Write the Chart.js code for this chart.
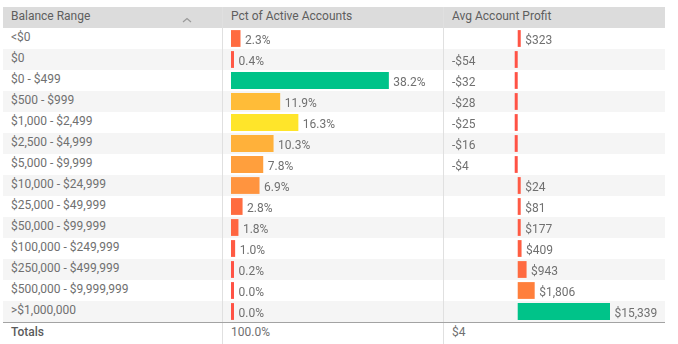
<!DOCTYPE html>
<html>
<head>
<meta charset="utf-8">
<script src="https://cdn.jsdelivr.net/npm/chart.js@4"></script>
<style>
  body { margin: 0; background: #fff; font-family: Roboto, sans-serif; font-size: 12px; color: #707070; }
  #wrap { position: relative; width: 678px; height: 344px; overflow: hidden; }
  .abs { position: absolute; }
  .hdr { top: 7px; left: 3px; width: 662px; height: 21px; background: #dcdcdc; }
  .row { left: 3px; width: 662px; height: 21px; }
  .txt { position: absolute; white-space: nowrap; line-height: 19px; height: 21px; }
  .htxt { color: #5e5e5e; }
  .vline { width: 1px; top: 7px; height: 337px; background: #e0e0e0; }
  .tline { left: 3px; width: 662px; top: 322px; height: 1px; background: #a3a3a3; }
  .tot { position: absolute; top: 322px; line-height: 21px; white-space: nowrap; }
  canvas { position: absolute; }
</style>
</head>
<body>
<div id="wrap">
  <div class="abs hdr"></div>
  <div id="rows"></div>
  <div class="abs vline" style="left:222px"></div>
  <div class="abs vline" style="left:443px"></div>
  <div class="abs tline"></div>
  <svg class="abs" style="left:0;top:0" width="678" height="30">
    <polyline points="183,22 187,18.5 191,22" fill="none" stroke="#9a9a9a" stroke-width="1.2"/>
  </svg>
  <canvas id="pctChart" width="221" height="294" style="left:222px;top:28px"></canvas>
  <canvas id="profitChart" width="222" height="294" style="left:443px;top:28px"></canvas>
</div>
<script>
// table data
const headers = ['Balance Range', 'Pct of Active Accounts', 'Avg Account Profit'];
const ranges = ['<$0', '$0', '$0 - $499', '$500 - $999', '$1,000 - $2,499', '$2,500 - $4,999',
  '$5,000 - $9,999', '$10,000 - $24,999', '$25,000 - $49,999', '$50,000 - $99,999',
  '$100,000 - $249,999', '$250,000 - $499,999', '$500,000 - $9,999,999', '>$1,000,000'];
const pctActive = [2.3, 0.4, 38.2, 11.9, 16.3, 10.3, 7.8, 6.9, 2.8, 1.8, 1.0, 0.2, 0.0, 0.0];
const avgProfit = [323, -54, -32, -28, -25, -16, -4, 24, 81, 177, 409, 943, 1806, 15339];
const totals = ['Totals', '100.0%', '$4'];

const pctColors = ['#ff6b40', '#ff5845', '#00c389', '#ffbc38', '#ffe52a', '#ffb13a', '#ff9f3d',
  '#ff943f', '#ff6c40', '#ff6641', '#ff5a43', '#ff5345', '#ff5245', '#ff5245'];
const profitColors = ['#ff5545', '#ff5245', '#ff5245', '#ff5245', '#ff5245', '#ff5245', '#ff5245',
  '#ff5a45', '#ff5a45', '#ff5a43', '#ff5e42', '#ff6a40', '#ff7f3c', '#00c389'];

// rows + text
const rowsDiv = document.getElementById('rows');
let html = '';
ranges.forEach(function(r, i) {
  const top = 28 + i * 21;
  html += '<div class="abs row" style="top:' + top + 'px;background:' + (i % 2 ? '#f5f5f5' : '#fff') + '"></div>';
  html += '<div class="txt" style="left:11px;top:' + top + 'px">' + r.replace('<', '&lt;').replace('>', '&gt;') + '</div>';
});
html += '<div class="txt htxt" style="left:11px;top:7px">' + headers[0] + '</div>';
html += '<div class="txt htxt" style="left:231px;top:7px">' + headers[1] + '</div>';
html += '<div class="txt htxt" style="left:452px;top:7px">' + headers[2] + '</div>';
html += '<div class="tot" style="left:11px;color:#5a5a5a;font-weight:500">' + totals[0] + '</div>';
html += '<div class="tot" style="left:231px">' + totals[1] + '</div>';
html += '<div class="tot" style="left:452px">' + totals[2] + '</div>';
rowsDiv.innerHTML = html;

function barLabels(format, negX) {
  return {
    id: 'barLabels',
    afterDatasetsDraw: function(chart) {
      const ctx = chart.ctx;
      const meta = chart.getDatasetMeta(0);
      const vals = chart.data.datasets[0].data;
      ctx.save();
      ctx.font = '12px Roboto';
      ctx.fillStyle = '#707070';
      ctx.textBaseline = 'alphabetic';
      meta.data.forEach(function(bar, i) {
        const v = vals[i];
        let x;
        if (v < 0) x = negX;
        else x = Math.min(bar.x, chart.chartArea.right) + 4.5;
        ctx.fillText(format(v), x, bar.y + 5);
      });
      ctx.restore();
    }
  };
}

function makeChart(id, values, colors, xmin, xmax, pad, format) {
  return new Chart(document.getElementById(id), {
    type: 'bar',
    data: {
      labels: ranges,
      datasets: [{
        data: values,
        backgroundColor: colors,
        barPercentage: 0.8,
        categoryPercentage: 1,
        minBarLength: 3,
        clip: 0
      }]
    },
    options: {
      indexAxis: 'y',
      responsive: false,
      animation: false,
      layout: { padding: pad },
      plugins: { legend: { display: false }, tooltip: { enabled: false } },
      scales: {
        x: { display: false, min: xmin, max: xmax },
        y: { display: false }
      }
    },
    plugins: [barLabels(format, 9)]
  });
}

makeChart('pctChart', pctActive, pctColors, 0, 51.3, { left: 9, right: 0, top: 0, bottom: 0 },
  function(v) { return v.toFixed(1) + '%'; });
makeChart('profitChart', avgProfit, profitColors, -7950, 9820, { left: 0, right: 55, top: 0, bottom: 0 },
  function(v) { return (v < 0 ? '-$' : '$') + Math.abs(v).toLocaleString('en-US'); });
</script>
</body>
</html>
